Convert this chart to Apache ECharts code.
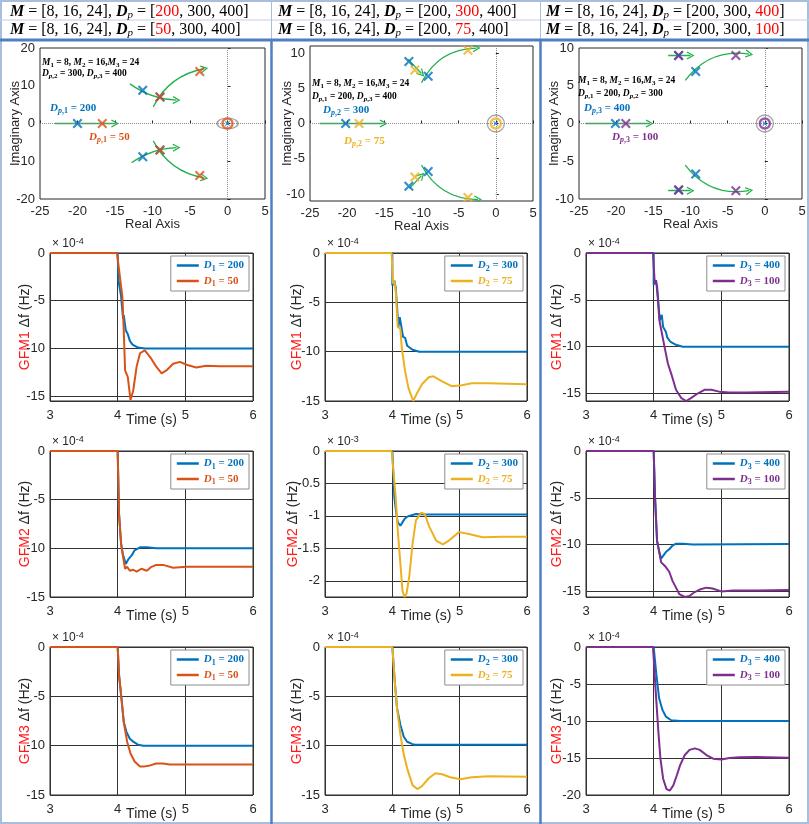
<!DOCTYPE html>
<html>
<head>
<meta charset="utf-8">
<script src="https://cdn.jsdelivr.net/npm/echarts@6/dist/echarts.min.js"></script>
<style>
html, body { margin: 0; padding: 0; background: #fff; }
#main { width: 809px; height: 824px; }
</style>
</head>
<body>
<div id="main"></div>
<script>
var myChart = echarts.init(document.getElementById('main'));

// ---------------- data ----------------
// pole locations (real, imag)
var poles_c1_blue = [[-20, 0], [-11.3, 8.8], [-11.3, -8.8], [-9, 7], [-9, -7]];
var poles_c1_alt  = [[-16.7, 0], [-9, 7], [-9, -7], [-3.7, 13.8], [-3.7, -13.8]];
var poles_c2_blue = [[-20.2, 0], [-11.7, 8.8], [-11.7, -8.9], [-9.1, 6.7], [-9.1, -6.8]];
var poles_c2_alt  = [[-18.4, 0], [-10.9, 7.6], [-10.9, -7.6], [-3.75, 10.4], [-3.75, -10.5]];
var poles_c3_blue = [[-20.1, 0], [-11.6, 9.0], [-11.6, -8.8], [-9.3, 6.9], [-9.3, -6.7]];
var poles_c3_alt  = [[-18.7, 0], [-11.6, 9.0], [-11.6, -8.8], [-3.9, 9.0], [-3.9, -8.9]];
var origin = [[0, 0]];

// green trajectory arrows: [start, end]
var arrows_c1 = [[[-23, 0], [-15, 0]], [[-13, 10.5], [-6.8, 6.2]], [[-9.9, 4.4], [-3.1, 14.5]],
                 [[-12.8, -10.4], [-6.8, -6.4]], [[-9.9, -4.6], [-3.1, -14.4]]];
var arrows_c2 = [[[-23.7, 0], [-15.1, 0]], [[-11.8, 9.1], [-10.0, 7.1]], [[-10, 5.8], [-2.6, 10.7]],
                 [[-11.6, -9.2], [-10, -7.4]], [[-10, -5.9], [-2.4, -10.8]]];
var arrows_c3 = [[[-24.1, 0], [-15.5, 0]], [[-13, 9], [-10, 9]], [[-10.7, 5.7], [-2.1, 9.2]],
                 [[-13, -8.9], [-10, -8.9]], [[-10.7, -5.5], [-2.1, -8.9]]];
var bend_c1 = [0, -0.15, 0.25, 0.15, -0.25];
var bend_c2 = [0, 0, 0.3, 0, -0.3];
var bend_c3 = [0, 0, 0.3, 0, -0.3];

// frequency deviation traces [time (s), value (x10^-4 Hz, or x10^-3 for GFM2 col 2)]
var gfm1_d1_200 = [[3,0],[4,0],[4.01,-2.8],[4.03,-3.0],[4.05,-4.5],[4.08,-6.9],[4.09,-6.5],[4.12,-8.1],[4.15,-8.5],[4.18,-9.2],[4.22,-9.6],[4.3,-9.9],[4.4,-10],[6,-10]];
var gfm1_d1_50  = [[3,0],[3.99,0],[4.04,-2.9],[4.07,-4.6],[4.09,-8.1],[4.11,-12.3],[4.15,-13.0],[4.19,-15.4],[4.23,-14.4],[4.28,-11.9],[4.33,-10.5],[4.40,-10.2],[4.48,-10.9],[4.57,-11.9],[4.65,-12.6],[4.72,-12.3],[4.82,-11.6],[4.92,-11.4],[5.02,-11.7],[5.16,-12.0],[5.31,-11.8],[5.51,-11.85],[6,-11.85]];
var gfm1_d2_300 = [[3,0],[4,0],[4.0,-3.3],[4.03,-2.8],[4.05,-3.5],[4.09,-7.5],[4.11,-6.5],[4.16,-8.5],[4.19,-8.6],[4.22,-9.4],[4.3,-9.8],[4.4,-10],[6,-10]];
var gfm1_d2_75  = [[3,0],[3.99,0],[4.01,-3.1],[4.03,-2.8],[4.05,-3.8],[4.08,-7.5],[4.12,-7.7],[4.14,-9.6],[4.19,-12.0],[4.24,-13.7],[4.31,-15.0],[4.36,-14.3],[4.44,-13.3],[4.54,-12.6],[4.61,-12.5],[4.74,-13.0],[4.88,-13.5],[5.03,-13.4],[5.18,-13.2],[5.43,-13.2],[6,-13.3]];
var gfm1_d3_400 = [[3,0],[4,0],[4.0,-3.4],[4.02,-2.9],[4.05,-3.5],[4.09,-7.2],[4.12,-6.6],[4.14,-7.9],[4.18,-8.4],[4.2,-9.0],[4.25,-9.5],[4.33,-9.8],[4.43,-10],[6,-10]];
var gfm1_d3_100 = [[3,0],[3.99,0],[4.016,-3.3],[4.036,-2.9],[4.06,-4.7],[4.085,-7.2],[4.11,-7.4],[4.16,-10],[4.21,-11.8],[4.26,-12.9],[4.33,-14.6],[4.41,-15.5],[4.48,-15.8],[4.55,-15.5],[4.65,-15.0],[4.75,-14.6],[4.85,-14.6],[4.97,-14.8],[5.12,-14.9],[5.37,-14.9],[6,-14.8]];

var gfm2_d1_200 = [[3,0],[4,0],[4.02,-6.4],[4.05,-9.5],[4.08,-10.7],[4.12,-11.6],[4.16,-11.1],[4.21,-10.7],[4.25,-10.2],[4.33,-9.9],[4.43,-9.9],[4.57,-10],[6,-10]];
var gfm2_d1_50  = [[3,0],[4,0],[4.02,-6.4],[4.05,-9.5],[4.08,-10.9],[4.11,-12.1],[4.14,-11.9],[4.18,-12.3],[4.23,-12.2],[4.28,-12.4],[4.35,-12.1],[4.43,-12.3],[4.5,-11.9],[4.57,-11.7],[4.67,-11.7],[4.82,-12.0],[5.02,-11.9],[5.21,-11.9],[6,-11.9]];
var gfm2_d2_300 = [[3,0],[4,0],[4.03,-0.71],[4.06,-0.97],[4.08,-1.1],[4.12,-1.15],[4.15,-1.1],[4.18,-1.05],[4.21,-1.02],[4.25,-1.0],[4.35,-0.97],[4.5,-0.98],[6,-0.98]];
var gfm2_d2_75  = [[3,0],[3.99,0],[4.05,-0.71],[4.08,-1.22],[4.12,-1.74],[4.15,-2.15],[4.18,-2.25],[4.21,-2.2],[4.25,-1.95],[4.3,-1.43],[4.35,-1.07],[4.43,-0.95],[4.48,-0.97],[4.55,-1.17],[4.65,-1.38],[4.75,-1.44],[4.84,-1.38],[4.99,-1.25],[5.14,-1.28],[5.34,-1.33],[5.63,-1.32],[6,-1.32]];
var gfm2_d3_400 = [[3,0],[4,0],[4.02,-4.9],[4.05,-9.6],[4.08,-10.7],[4.11,-11.5],[4.14,-11.2],[4.18,-10.8],[4.23,-10.5],[4.28,-10.1],[4.33,-9.9],[4.43,-9.9],[4.58,-10],[6,-9.95]];
var gfm2_d3_100 = [[3,0],[4,0],[4.02,-4.9],[4.05,-9.6],[4.08,-10.7],[4.11,-11.9],[4.14,-12.1],[4.18,-12.4],[4.23,-12.9],[4.28,-13.9],[4.33,-14.6],[4.38,-15.3],[4.46,-15.6],[4.53,-15.5],[4.6,-15.1],[4.68,-14.8],[4.78,-14.6],[4.87,-14.7],[5.0,-15.0],[5.17,-14.9],[5.52,-14.9],[6,-14.85]];

var gfm3_d1_200 = [[3,0],[4,0],[4.02,-2.8],[4.06,-5.5],[4.09,-7.6],[4.13,-8.6],[4.18,-9.3],[4.23,-9.6],[4.3,-9.9],[4.38,-10],[6,-10]];
var gfm3_d1_50  = [[3,0],[4,0],[4.02,-2.8],[4.06,-5.5],[4.09,-7.6],[4.14,-9.6],[4.19,-10.8],[4.25,-11.6],[4.33,-12.1],[4.4,-12.1],[4.48,-12.0],[4.57,-11.8],[4.67,-11.8],[4.77,-11.9],[4.97,-11.9],[6,-11.9]];
var gfm3_d2_300 = [[3,0],[4,0],[4.04,-3.8],[4.07,-6.2],[4.12,-7.9],[4.17,-9.1],[4.22,-9.6],[4.3,-9.85],[4.34,-9.9],[6,-9.9]];
var gfm3_d2_75  = [[3,0],[4,0],[4.04,-3.8],[4.07,-6.2],[4.12,-8.9],[4.17,-10.9],[4.22,-12.3],[4.3,-14.0],[4.37,-14.4],[4.44,-14.1],[4.54,-13.3],[4.64,-12.8],[4.74,-12.9],[4.86,-13.2],[5.01,-13.4],[5.18,-13.2],[5.43,-13.1],[6,-13.15]];
var gfm3_d3_400 = [[3,0],[4,0],[4.04,-3.7],[4.08,-6.9],[4.13,-8.5],[4.18,-9.4],[4.26,-9.9],[4.39,-10],[6,-10]];
var gfm3_d3_100 = [[3,0],[3.99,0],[4.03,-6.0],[4.07,-11.5],[4.1,-15.1],[4.14,-17.8],[4.19,-19.2],[4.24,-19.4],[4.29,-18.7],[4.34,-17.4],[4.39,-16.0],[4.46,-14.6],[4.53,-13.9],[4.61,-13.7],[4.68,-13.9],[4.78,-14.6],[4.88,-15.1],[5.0,-15.2],[5.12,-15.0],[5.27,-14.9],[5.52,-14.85],[6,-14.95]];

var timeRange = [3, 6];
var poleXRange = [-25, 5];
var poleYRange = [[-20, 20], [-11, 11], [-10, 10]];
var yMinByRow = [[-15.5, -15, -15.8], [-15, -2.25, -15.6], [-15, -15, -20]];
var expByRow = [['-4', '-4', '-4'], ['-4', '-3', '-4'], ['-4', '-4', '-4']];
var gfmNames = ['GFM1', 'GFM2', 'GFM3'];
var legendNames = [['D1 = 200', 'D1 = 50'], ['D2 = 300', 'D2 = 75'], ['D3 = 400', 'D3 = 100']];

// ---------------- styles / layout ----------------
var C_BLUE = '#0072BD', C_ORANGE = '#D95319', C_YELLOW = '#EDB120', C_PURPLE = '#7E2F8E';
var C_GREEN = '#22B14C', C_AX = '#262626', C_FRAME = '#4F7FC0';
var altColors = [C_ORANGE, C_YELLOW, C_PURPLE];
var altKeys = ['o', 'y', 'p'];
var SERIF = '"Liberation Serif", "Times New Roman", serif';
var SANS = '"Liberation Sans", Arial, Helvetica, sans-serif';
var XSYM = 'path://M0,1.5L1.5,0L5,3.5L8.5,0L10,1.5L6.5,5L10,8.5L8.5,10L5,6.5L1.5,10L0,8.5L3.5,5Z';
var ARROW = 'path://M0,9L5,0L10,9L8.8,10L5,3L1.2,10Z';

var poleL = [40, 310, 579], poleR = [265, 533, 802], poleT = [48, 46, 48], poleB = [199, 201, 199];
var tL = [50, 325, 586], tR = [253, 527, 789];
var rowT = [253, 451, 647], rowB = [401, 597, 795];
var headerL = [10, 278, 546];

function mk(key, color, size, bold) {
  var w = bold ? 'bold' : 'normal';
  var sub = Math.round(size * 0.72);
  var o = {};
  o['i' + key] = { fontFamily: SERIF, fontStyle: 'italic', fontWeight: w, fontSize: size, lineHeight: size + 3, color: color };
  o['n' + key] = { fontFamily: SERIF, fontWeight: w, fontSize: size, lineHeight: size + 3, color: color };
  o['s' + key] = { fontFamily: SERIF, fontWeight: w, fontSize: sub, lineHeight: sub, color: color, verticalAlign: 'bottom' };
  o['p' + key] = { fontFamily: SERIF, fontStyle: 'italic', fontWeight: w, fontSize: sub, lineHeight: sub, color: color, verticalAlign: 'bottom' };
  return o;
}

var legendRich = Object.assign({}, mk('b', C_BLUE, 11, true), mk('o', C_ORANGE, 11, true),
                               mk('y', C_YELLOW, 11, true), mk('p', C_PURPLE, 11, true));
var legendText = {};
legendNames.forEach(function (pair, ci) {
  var k = altKeys[ci];
  pair.forEach(function (nm, j) {
    var key = j === 0 ? 'b' : k;
    var parts = nm.split(' = ');
    legendText[nm] = '{i' + key + '|D}{s' + key + '|' + parts[0].slice(1) + '}{n' + key + '| = ' + parts[1] + '}';
  });
});

var option = {
  animation: false,
  backgroundColor: '#fff',
  title: [], grid: [], xAxis: [], yAxis: [], series: [], legend: [], graphic: []
};

// header lines
var headerRich = {
  hb: { fontFamily: SERIF, fontStyle: 'italic', fontWeight: 'bold', fontSize: 16, lineHeight: 18, color: '#000' },
  hn: { fontFamily: SERIF, fontWeight: 'normal', fontSize: 16, lineHeight: 18, color: '#000' },
  hp: { fontFamily: SERIF, fontStyle: 'italic', fontWeight: 'normal', fontSize: 11, lineHeight: 11, color: '#000', verticalAlign: 'bottom' },
  hr: { fontFamily: SERIF, fontWeight: 'normal', fontSize: 16, lineHeight: 18, color: '#FF0000' }
};
var headerVals = [[['200', '300', '400'], ['50', '300', '400']],
                  [['200', '300', '400'], ['200', '75', '400']],
                  [['200', '300', '400'], ['200', '300', '100']]];
for (var c = 0; c < 3; c++) {
  for (var ln = 0; ln < 2; ln++) {
    var hv = headerVals[c][ln];
    var hs = '{hb|M}{hn| = [8, 16, 24], }{hb|D}{hp|p}{hn| = [}';
    for (var k = 0; k < 3; k++) {
      hs += (k === c ? '{hr|' + hv[k] + '}' : '{hn|' + hv[k] + '}');
      if (k < 2) hs += '{hn|, }';
    }
    hs += '{hn|]}';
    option.title.push({ text: hs, left: headerL[c], top: ln === 0 ? 3 : 21, padding: 0,
                        textStyle: { fontWeight: 'normal', rich: headerRich } });
  }
}

// pole-map annotations
var annRich = Object.assign({}, mk('k', '#000', 9.5, true), mk('b', C_BLUE, 11, true),
                            mk('o', C_ORANGE, 11, true), mk('y', C_YELLOW, 11, true), mk('p', C_PURPLE, 11, true));
var mLine = '{ik|M}{sk|1}{nk| = 8, }{ik|M}{sk|2}{nk| = 16,}{ik|M}{sk|3}{nk| = 24}';
var dLines = ['{ik|D}{pk|p}{sk|,2}{nk| = 300, }{ik|D}{pk|p}{sk|,3}{nk| = 400}',
              '{ik|D}{pk|p}{sk|,1}{nk| = 200, }{ik|D}{pk|p}{sk|,3}{nk| = 400}',
              '{ik|D}{pk|p}{sk|,1}{nk| = 200, }{ik|D}{pk|p}{sk|,2}{nk| = 300}'];
var dBase = [['1', '200', '50'], ['2', '300', '75'], ['3', '400', '100']];
var annPos = [
  { m: [42, 56], d: [42, 67], b: [50, 101], a: [89, 130] },
  { m: [312, 77], d: [312, 90], b: [323, 103], a: [344, 134] },
  { m: [578, 74], d: [578, 87], b: [584, 101], a: [612, 130] }
];
for (var c = 0; c < 3; c++) {
  var ap = annPos[c], ak = altKeys[c], db = dBase[c];
  option.title.push({ text: mLine, left: ap.m[0], top: ap.m[1], padding: 0, textStyle: { rich: annRich } });
  option.title.push({ text: dLines[c], left: ap.d[0], top: ap.d[1], padding: 0, textStyle: { rich: annRich } });
  option.title.push({ text: '{ib|D}{pb|p}{sb|,' + db[0] + '}{nb| = ' + db[1] + '}', left: ap.b[0], top: ap.b[1], padding: 0, textStyle: { rich: annRich } });
  option.title.push({ text: '{i' + ak + '|D}{p' + ak + '|p}{s' + ak + '|,' + db[0] + '}{n' + ak + '| = ' + db[2] + '}', left: ap.a[0], top: ap.a[1], padding: 0, textStyle: { rich: annRich } });
}

var axisLabelStyle = { color: C_AX, fontFamily: SANS, fontSize: 13 };
var nameStyle = { color: C_AX, fontFamily: SANS, fontSize: 13 };

// ---------------- pole-zero maps ----------------
var poleBlue = [poles_c1_blue, poles_c2_blue, poles_c3_blue];
var poleAlt = [poles_c1_alt, poles_c2_alt, poles_c3_alt];
var arrows = [arrows_c1, arrows_c2, arrows_c3];
var bends = [bend_c1, bend_c2, bend_c3];
var gi = 0;
for (var c = 0; c < 3; c++) {
  option.grid.push({ left: poleL[c], top: poleT[c], width: poleR[c] - poleL[c], height: poleB[c] - poleT[c],
                     show: true, borderColor: C_AX, borderWidth: 1, backgroundColor: 'transparent' });
  option.xAxis.push({ gridIndex: gi, type: 'value', min: poleXRange[0], max: poleXRange[1], interval: 5,
                      name: 'Real Axis', nameLocation: 'middle', nameGap: 19, nameMoveOverlap: false,
                      nameTextStyle: nameStyle,
                      axisLine: { show: false }, splitLine: { show: false },
                      axisTick: { show: true, inside: true, length: 3, lineStyle: { color: C_AX } },
                      axisLabel: Object.assign({ margin: 6 }, axisLabelStyle) });
  var yr = poleYRange[c];
  var ya = { gridIndex: gi, type: 'value', min: yr[0], max: yr[1],
             name: 'Imaginary Axis', nameLocation: 'middle', nameGap: c === 1 ? 16 : 18, nameMoveOverlap: false,
             nameTextStyle: nameStyle,
             axisLine: { show: false }, splitLine: { show: false },
             axisTick: { show: true, inside: true, length: 3, lineStyle: { color: C_AX } },
             axisLabel: Object.assign({ margin: 5, showMinLabel: c !== 1, showMaxLabel: c !== 1 }, axisLabelStyle) };
  if (c === 0) ya.interval = 10; else if (c === 2) ya.interval = 5; else ya.splitNumber = 4;
  option.yAxis.push(ya);

  // dotted zero lines
  option.series.push({ type: 'scatter', xAxisIndex: gi, yAxisIndex: gi, data: [], silent: true,
    markLine: { silent: true, symbol: 'none', label: { show: false },
                lineStyle: { type: 'dotted', color: '#8a8a8a', width: 1 }, data: [{ xAxis: 0 }, { yAxis: 0 }] } });
  // trajectories
  option.series.push({ type: 'lines', coordinateSystem: 'cartesian2d', xAxisIndex: gi, yAxisIndex: gi,
    symbol: ['none', ARROW], symbolSize: [0, 8], silent: true, z: 3,
    lineStyle: { color: C_GREEN, width: 1.3, opacity: 1 },
    data: arrows[c].map(function (a, j) { return { coords: a, lineStyle: { curveness: bends[c][j] } }; }) });
  // origin markers
  option.series.push({ type: 'scatter', xAxisIndex: gi, yAxisIndex: gi, data: origin, silent: true, z: 4,
    symbol: 'circle', symbolSize: c === 0 ? [21, 11] : 17,
    itemStyle: { color: 'transparent', borderColor: '#8c8c8c', borderWidth: 1.3 } });
  option.series.push({ type: 'scatter', xAxisIndex: gi, yAxisIndex: gi, data: origin, silent: true, z: 5,
    symbol: 'circle', symbolSize: 10,
    itemStyle: { color: 'transparent', borderColor: altColors[c], borderWidth: 2.5 } });
  option.series.push({ type: 'scatter', xAxisIndex: gi, yAxisIndex: gi, data: origin, silent: true, z: 6,
    symbol: XSYM, symbolSize: 5, itemStyle: { color: C_BLUE } });
  // poles
  option.series.push({ type: 'scatter', xAxisIndex: gi, yAxisIndex: gi, data: poleBlue[c], silent: true, z: 5,
    symbol: XSYM, symbolSize: 10, itemStyle: { color: C_BLUE } });
  option.series.push({ type: 'scatter', xAxisIndex: gi, yAxisIndex: gi, data: poleAlt[c], silent: true, z: 6,
    symbol: XSYM, symbolSize: 10, itemStyle: { color: altColors[c] } });
  gi++;
}

// ---------------- time responses ----------------
var runs = [
  [[gfm1_d1_200, gfm1_d1_50], [gfm1_d2_300, gfm1_d2_75], [gfm1_d3_400, gfm1_d3_100]],
  [[gfm2_d1_200, gfm2_d1_50], [gfm2_d2_300, gfm2_d2_75], [gfm2_d3_400, gfm2_d3_100]],
  [[gfm3_d1_200, gfm3_d1_50], [gfm3_d2_300, gfm3_d2_75], [gfm3_d3_400, gfm3_d3_100]]
];
var yGap = [18, 21, 22];
var expRich = {
  a: { fontFamily: SANS, fontWeight: 'normal', fontSize: 12, lineHeight: 14, color: C_AX },
  e: { fontFamily: SANS, fontWeight: 'normal', fontSize: 9, lineHeight: 9, color: C_AX, verticalAlign: 'top' }
};
for (var r = 0; r < 3; r++) {
  for (var c = 0; c < 3; c++) {
    var gLeft = tL[c], gTop = rowT[r], yMin = yMinByRow[r][c];
    option.grid.push({ left: gLeft, top: gTop, width: tR[c] - gLeft, height: rowB[r] - gTop,
                       show: true, borderColor: C_AX, borderWidth: 1, backgroundColor: 'transparent' });
    option.xAxis.push({ gridIndex: gi, type: 'value', min: timeRange[0], max: timeRange[1], interval: 1,
                        name: 'Time (s)', nameLocation: 'middle', nameGap: 12, nameMoveOverlap: false,
                        nameTextStyle: { color: C_AX, fontFamily: SANS, fontSize: 14 },
                        axisLine: { show: false }, axisTick: { show: false },
                        splitLine: { show: true, lineStyle: { color: '#333', width: 1 } },
                        axisLabel: Object.assign({ margin: 8 }, axisLabelStyle) });
    option.yAxis.push({ gridIndex: gi, type: 'value', min: yMin, max: 0,
                        splitNumber: (yMin > -3 || yMin <= -20) ? 4 : 3,
                        name: '{r|' + gfmNames[r] + '}{k| \u0394f (Hz)}', nameLocation: 'middle',
                        nameGap: (r === 1 && c === 1) ? 25 : yGap[c], nameMoveOverlap: false,
                        nameTextStyle: { rich: {
                          r: { color: '#FF1A1A', fontFamily: SANS, fontSize: 14 },
                          k: { color: C_AX, fontFamily: SANS, fontSize: 14 } } },
                        axisLine: { show: false }, axisTick: { show: false },
                        splitLine: { show: true, lineStyle: { color: '#333', width: 1 } },
                        axisLabel: Object.assign({ margin: 5, showMinLabel: (yMin % 5 === 0) }, axisLabelStyle) });
    option.title.push({ text: '{a|\u00d7 10}{e|' + expByRow[r][c] + '}', left: gLeft + 2, top: gTop - 16, padding: 0,
                        textStyle: { fontWeight: 'normal', rich: expRich } });
    var names = legendNames[c];
    var lineCols = [C_BLUE, altColors[c]];
    for (var j = 0; j < 2; j++) {
      option.series.push({ type: 'line', name: names[j], xAxisIndex: gi, yAxisIndex: gi,
        data: runs[r][c][j], showSymbol: false, symbol: 'none', clip: true, z: 3 + j,
        color: lineCols[j], lineStyle: { color: lineCols[j], width: 2 }, itemStyle: { color: lineCols[j] } });
    }
    option.legend.push({ orient: 'vertical', right: 809 - tR[c] + 4, top: gTop + 3,
      backgroundColor: '#fff', borderColor: '#8c8c8c', borderWidth: 1, borderRadius: 0,
      padding: [4, 5, 3, 6], itemGap: 3, itemWidth: 22, itemHeight: 2.5, icon: 'rect',
      selectedMode: false, data: [names[0], names[1]],
      formatter: function (nm) { return legendText[nm]; },
      textStyle: { rich: legendRich } });
    gi++;
  }
}

// ---------------- frames ----------------
option.graphic = [
  { type: 'rect', silent: true, shape: { x: 1, y: 1, width: 807, height: 822 },
    style: { fill: 'none', stroke: '#A9BEDF', lineWidth: 2 } },
  { type: 'line', silent: true, shape: { x1: 0, y1: 20, x2: 809, y2: 20 }, style: { stroke: '#C3D0E6', lineWidth: 1 } },
  { type: 'line', silent: true, shape: { x1: 271.5, y1: 0, x2: 271.5, y2: 40 }, style: { stroke: '#A9BEDF', lineWidth: 1 } },
  { type: 'line', silent: true, shape: { x1: 540.5, y1: 0, x2: 540.5, y2: 40 }, style: { stroke: '#A9BEDF', lineWidth: 1 } },
  { type: 'line', silent: true, shape: { x1: 0, y1: 40, x2: 809, y2: 40 }, style: { stroke: C_FRAME, lineWidth: 3 } },
  { type: 'line', silent: true, shape: { x1: 271.5, y1: 40, x2: 271.5, y2: 824 }, style: { stroke: C_FRAME, lineWidth: 2.5 } },
  { type: 'line', silent: true, shape: { x1: 540.5, y1: 40, x2: 540.5, y2: 824 }, style: { stroke: C_FRAME, lineWidth: 2.5 } }
];

myChart.setOption(option);
</script>
</body>
</html>
